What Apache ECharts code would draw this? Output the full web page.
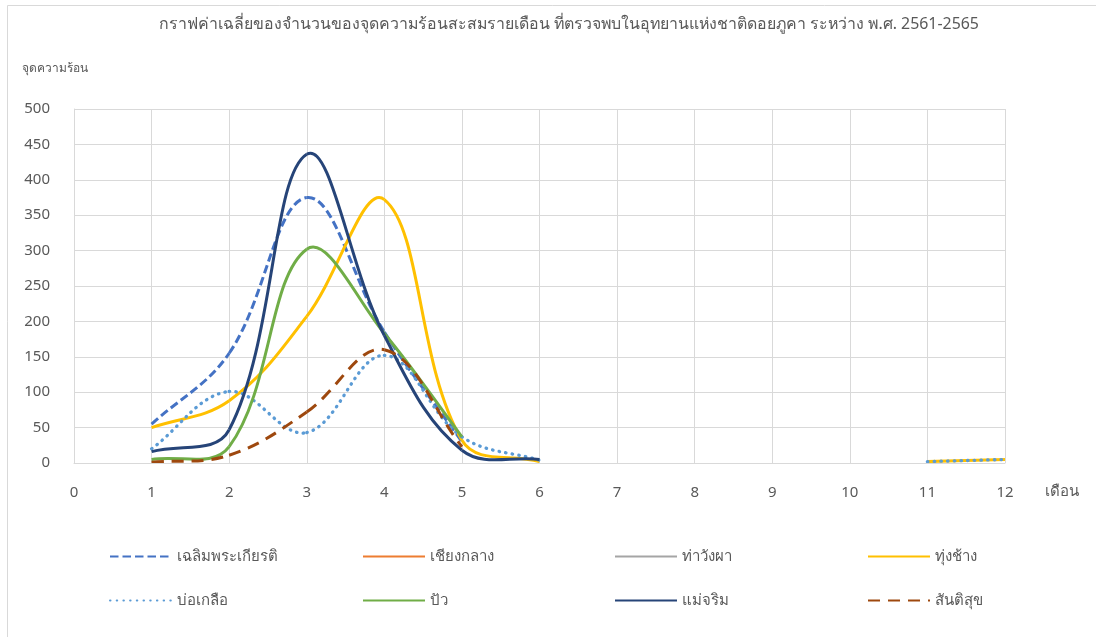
<!DOCTYPE html>
<html>
<head>
<meta charset="utf-8">
<script src="https://cdn.jsdelivr.net/npm/echarts@6/dist/echarts.min.js"></script>
<style>html,body{margin:0;padding:0;background:#fff;}#c{width:1096px;height:637px;}</style>
</head>
<body>
<div id="c"></div>
<script>
const months = [1,2,3,4,5,6,7,8,9,10,11,12];
const xTicks = [0,1,2,3,4,5,6,7,8,9,10,11,12];
const yTicks = [0,50,100,150,200,250,300,350,400,450,500];
const names = ['เฉลิมพระเกียรติ','เชียงกลาง','ท่าวังผา','ทุ่งช้าง','บ่อเกลือ','ปัว','แม่จริม','สันติสุข'];
const chaloem     = [55, 155, 375, 185, 30, null, null, null, null, null, null, null];
const chiangKlang = [null, null, null, null, null, null, null, null, null, null, null, null];
const thaWangPha  = [null, null, null, null, null, null, null, null, null, null, null, null];
const thungChang  = [50, 88, 207, 372, 32, 2, null, null, null, null, 2, 5];
const boKluea     = [20, 101, 43, 152, 37, 4, null, null, null, null, 2, 5];
const pua         = [5, 23, 302, 183, 37, null, null, null, null, null, null, null];
const maeCharim   = [16, 47, 436, 180, 18, 5, null, null, null, null, null, null];
const santisuk    = [1, 11, 72, 160, 23, null, null, null, null, null, null, null];

const values = [chaloem, chiangKlang, thaWangPha, thungChang, boKluea, pua, maeCharim, santisuk];
const colors = ['#4472C4','#ED7D31','#A5A5A5','#FFC000','#5B9BD5','#70AD47','#264478','#9E480E'];
const dashes = [[8.5,4],null,null,null,[0.5,6.2],null,null,[12,8]];
const caps = ['butt','butt','butt','butt','round','butt','butt','butt'];
const widths = [3,3,3,3,3.3,3,3,3];
const SMOOTH = 0.38;

const font = '"Noto Sans", "DejaVu Sans", sans-serif';
const txt = '#595959';

// Excel-like smoothed curve through the data points, positioned by the chart's own scales
function makeRender(k) {
  const arr = values[k];
  return function (params, api) {
    const i = params.dataIndex;
    if (i >= months.length - 1 || arr[i] === null || arr[i + 1] === null) return null;
    const has = j => j >= 0 && j < months.length && arr[j] !== null;
    const pt = j => api.coord([months[j], arr[j]]);
    const dist = (a, b) => Math.hypot(b[0] - a[0], b[1] - a[1]);
    const p1 = pt(i), p2 = pt(i + 1);
    const p0 = has(i - 1) ? pt(i - 1) : p1;
    const p3 = has(i + 2) ? pt(i + 2) : p2;
    const dA0 = dist(p0, p1), dA1 = dist(p1, p2);
    const rA = dA1 / (dA0 + dA1);
    const c1 = [p1[0] + (p2[0] - p0[0]) * SMOOTH * rA, p1[1] + (p2[1] - p0[1]) * SMOOTH * rA];
    const dB0 = dist(p1, p2), dB1 = dist(p2, p3);
    const rB = dB0 / (dB0 + dB1);
    const c2 = [p2[0] - (p3[0] - p1[0]) * SMOOTH * rB, p2[1] - (p3[1] - p1[1]) * SMOOTH * rB];
    return {
      type: 'path',
      shape: { pathData: 'M' + p1[0] + ',' + p1[1] + 'C' + c1[0] + ',' + c1[1] + ',' + c2[0] + ',' + c2[1] + ',' + p2[0] + ',' + p2[1] },
      style: { fill: 'none', stroke: colors[k], lineWidth: widths[k], lineDash: dashes[k] || null, lineCap: caps[k] },
      silent: true
    };
  };
}

const legendSeries = names.map((n, k) => ({
  name: n, type: 'line', data: [], symbol: 'none',
  lineStyle: { color: colors[k], width: widths[k], type: dashes[k] || 'solid', cap: caps[k] },
  itemStyle: { color: colors[k] }
}));
const curveSeries = names.map((n, k) => ({
  name: n, type: 'custom', clip: true,
  renderItem: makeRender(k),
  data: months.map((m, i) => [m, values[k][i] === null ? '-' : values[k][i]]),
  itemStyle: { color: colors[k] },
  z: 2
}));

const colX = [109, 362, 614, 867];
const rowY = [549, 593];
const legends = names.map((n, k) => ({
  left: colX[k % 4], top: rowY[Math.floor(k / 4)], padding: 0,
  itemWidth: 62, itemHeight: 14, itemGap: 0,
  itemStyle: { opacity: 0 },
  textStyle: { color: txt, fontSize: 15, fontFamily: font },
  data: [n]
}));

const chart = echarts.init(document.getElementById('c'));
chart.setOption({
  animation: false,
  backgroundColor: '#fff',
  title: {
    text: 'กราฟค่าเฉลี่ยของจำนวนของจุดความร้อนสะสมรายเดือน ที่ตรวจพบในอุทยานแห่งชาติดอยภูคา ระหว่าง พ.ศ. 2561-2565',
    left: 564, textAlign: 'center', top: 11,
    textStyle: { color: txt, fontSize: 15.9, fontWeight: 'normal', fontFamily: font }
  },
  graphic: [{
    type: 'rect', shape: { x: 7.5, y: 5.5, width: 1200, height: 700 },
    style: { fill: 'none', stroke: '#D9D9D9', lineWidth: 1 }, silent: true
  }],
  legend: legends,
  grid: { left: 74, right: 91, top: 109, bottom: 174, containLabel: false },
  xAxis: {
    type: 'value', min: xTicks[0], max: xTicks[xTicks.length - 1], interval: 1,
    name: 'เดือน', nameLocation: 'end', nameGap: 40,
    nameTextStyle: { color: txt, fontSize: 15, fontFamily: font, verticalAlign: 'top', padding: [21, 0, 0, 0] },
    axisLine: { show: true, lineStyle: { color: '#D9D9D9', width: 1 } },
    axisTick: { show: false },
    axisLabel: { color: txt, fontSize: 15, fontFamily: font, margin: 22 },
    splitLine: { show: true, lineStyle: { color: '#D9D9D9', width: 1 } }
  },
  yAxis: {
    type: 'value', min: yTicks[0], max: yTicks[yTicks.length - 1], interval: 50,
    name: 'จุดความร้อน', nameLocation: 'end', nameGap: 34,
    nameTextStyle: { color: txt, fontSize: 12, fontFamily: font, align: 'center', padding: [0, 38, 0, 0] },
    axisLine: { show: true, lineStyle: { color: '#D9D9D9', width: 1 } },
    axisTick: { show: false },
    axisLabel: { color: txt, fontSize: 15, fontFamily: font, margin: 24 },
    splitLine: { show: true, lineStyle: { color: '#D9D9D9', width: 1 } }
  },
  series: legendSeries.concat(curveSeries)
});
</script>
</body>
</html>
